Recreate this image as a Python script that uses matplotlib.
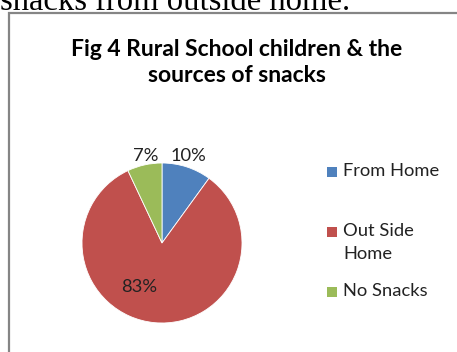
import matplotlib.pyplot as plt
from matplotlib.patches import Rectangle

# snack sources for rural school children (%)
categories = ['From Home', 'Out Side\nHome', 'No Snacks']
shares = [10, 83, 7]
colors = ['#4F81BD', '#C0504D', '#9BBB59']

W, H = 457, 352
fig = plt.figure(figsize=(W / 100, H / 100), dpi=100)
fig.patch.set_facecolor('white')

def fx(px):
    return px / W

def fy(py):
    return 1 - py / H

# tail of the running document text above the figure
fig.text(fx(0), fy(10), 'snacks from outside home.', family='Liberation Serif',
         fontsize=23.5, ha='left', va='baseline', color='black')

# chart frame
fig.patches.append(Rectangle((fx(9), -0.1), 1.2, fy(13) + 0.1, transform=fig.transFigure,
                             facecolor='white', edgecolor='#858585', linewidth=1.6, zorder=0))

fig.text(fx(237), fy(50), 'Fig 4 Rural School children & the', family='Lato',
         fontweight='bold', fontsize=16.5, ha='center', va='center')
fig.text(fx(237), fy(75), 'sources of snacks', family='Lato',
         fontweight='bold', fontsize=16.5, ha='center', va='center')

# pie: centre (162, 243) px, radius 80 px
cx, cy, r = 162, 243, 80
ax = fig.add_axes([fx(cx - r), fy(cy + r), 2 * r / W, 2 * r / H], zorder=2)
wedges, _ = ax.pie(shares, colors=colors, startangle=90, counterclock=False,
                   radius=1.0, wedgeprops=dict(edgecolor='white', linewidth=0.6))
ax.set_xlim(-1, 1)
ax.set_ylim(-1, 1)
ax.set_aspect('auto')
ax.axis('off')

# label spots for 10%, 83%, 7%
label_pos = [(0.33, 1.09), (-0.28, -0.55), (-0.21, 1.09)]
for val, (lx, ly) in zip(shares, label_pos):
    ax.text(lx, ly, f'{val}%', family='Lato', fontsize=13.2, ha='center', va='center',
            color='#222222', clip_on=False)

# legend
rows = [172, 232, 292]
for lab, col, ry in zip(categories, colors, rows):
    fig.patches.append(Rectangle((fx(327), fy(ry + 5)), 10 / W, 10 / H,
                                 transform=fig.transFigure, facecolor=col, edgecolor='none'))
    fig.text(fx(343), fy(ry - 9), lab, family='Lato', fontsize=13.2, ha='left', va='top',
             color='#222222', linespacing=1.55)

fig.savefig('out.png', dpi=100)
